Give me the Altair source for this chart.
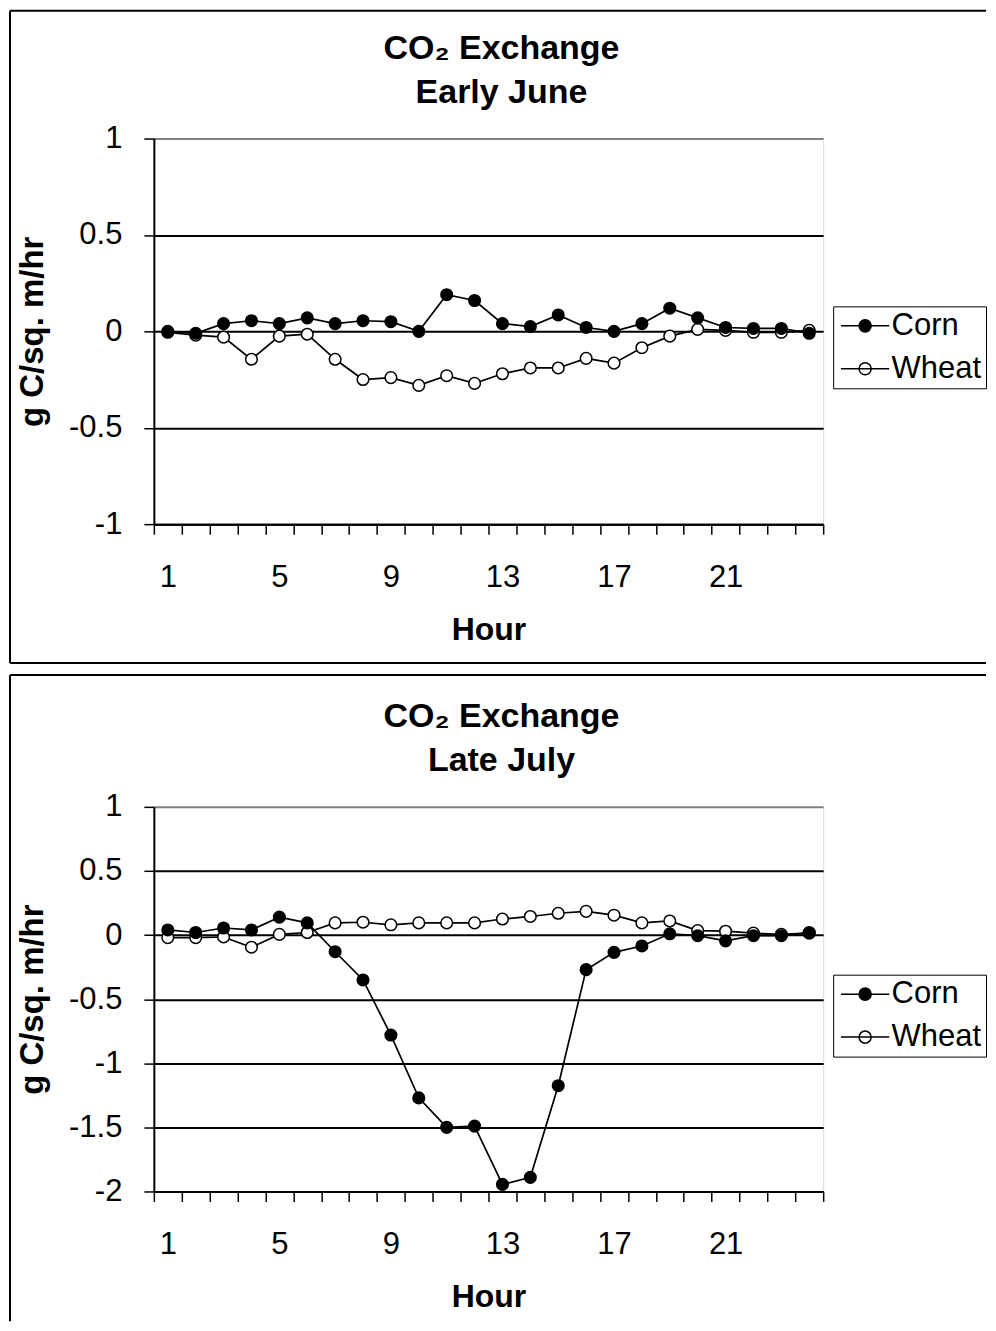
import altair as alt
import pandas as pd

# ---------------- data ----------------
hours = list(range(1, 25))
crops = ["Corn", "Wheat"]

corn_june = [0.0, -0.01, 0.04, 0.055, 0.04, 0.07, 0.04, 0.055, 0.05, 0.0, 0.19, 0.16,
             0.04, 0.025, 0.085, 0.02, 0.0, 0.04, 0.12, 0.07, 0.02, 0.015, 0.015, -0.01]
wheat_june = [-0.005, -0.02, -0.03, -0.145, -0.025, -0.015, -0.145, -0.25, -0.24, -0.28, -0.23, -0.27,
              -0.22, -0.19, -0.19, -0.14, -0.165, -0.085, -0.025, 0.01, 0.005, -0.005, -0.005, 0.005]

corn_july = [0.04, 0.02, 0.055, 0.04, 0.14, 0.095, -0.13, -0.35, -0.78, -1.27, -1.5, -1.49,
             -1.945, -1.89, -1.175, -0.27, -0.135, -0.085, 0.01, -0.005, -0.045, -0.005, -0.005, 0.02]
wheat_july = [-0.02, -0.02, -0.015, -0.095, 0.005, 0.02, 0.095, 0.1, 0.08, 0.095, 0.095, 0.095,
              0.125, 0.145, 0.17, 0.185, 0.155, 0.095, 0.11, 0.035, 0.03, 0.015, 0.005, 0.015]

title_june = ["CO\u2082  Exchange", "Early June"]
title_july = ["CO\u2082  Exchange", "Late July"]
y_domain_june = [-1, 1]
y_domain_july = [-2, 1]
y_ticks_june = [1, 0.5, 0, -0.5, -1]
y_ticks_july = [1, 0.5, 0, -0.5, -1, -1.5, -2]
x_label_hours = [1, 5, 9, 13, 17, 21]
x_title = "Hour"
y_title = "g C/sq. m/hr"

FONT = "Liberation Sans"
W = 670
one = pd.DataFrame({"k": [0]})

x_tick_values = [h - 0.5 for h in hours] + [hours[-1] + 0.5]
label_list = ",".join(str(h - 0.5) for h in x_label_hours)
x_label_expr = f"indexof([{label_list}], datum.value) >= 0 ? '' + (datum.value + 0.5) : ''"

LEGEND_SYMBOL = "M-2.2,0L2.2,0M-0.55,0A0.55,0.55,0,1,1,0.55,0A0.55,0.55,0,1,1,-0.55,0Z"


def panel(corn, wheat, titles, ydom, yticks, H, box_top, box_bottom, left_bottom):
    df = pd.DataFrame({
        "hour": hours + hours,
        "crop": ["Wheat"] * len(hours) + ["Corn"] * len(hours),
        "value": wheat + corn,
    })
    xenc = alt.X(
        "hour:Q",
        scale=alt.Scale(domain=[hours[0] - 0.5, hours[-1] + 0.5], nice=False, zero=False),
        axis=alt.Axis(
            values=x_tick_values, labelExpr=x_label_expr, labelOffset=14,
            labelBaseline="alphabetic", labelPadding=52, labelOverlap=False, labelFlush=False,
            labelFont=FONT, labelFontSize=31, labelColor="black",
            domainColor="black", domainWidth=2, tickColor="black", tickWidth=1.5, tickSize=10,
            grid=False, title=x_title, titleFont=FONT, titleFontSize=32, titleFontWeight="bold",
            titleColor="black", titleBaseline="alphabetic", titleY=115,
        ),
    )
    yenc = alt.Y(
        "value:Q",
        scale=alt.Scale(domain=ydom, nice=False, zero=False),
        axis=alt.Axis(
            values=yticks, labelExpr="'' + datum.value", labelPadding=22,
            labelFont=FONT, labelFontSize=31, labelColor="black", labelOverlap=False,
            domainColor="black", domainWidth=2, tickColor="black", tickWidth=1.5, tickSize=10,
            grid=True, gridWidth=2,
            gridColor={"condition": {"test": "datum.value >= 1", "value": "#808080"}, "value": "black"},
            title=y_title, titleFont=FONT, titleFontSize=33, titleFontWeight="bold",
            titleColor="black", titleAngle=270, titleBaseline="alphabetic", titleX=-111,
        ),
    )
    lines = alt.Chart(df).mark_line(color="black", strokeWidth=1.7).encode(
        x=xenc, y=yenc, detail="crop:N", order="hour:Q"
    )
    points = alt.Chart(df).mark_point(
        filled=True, shape="circle", size=135, stroke="black", strokeWidth=1.5, opacity=1
    ).encode(
        x=xenc, y=yenc,
        fill=alt.Fill(
            "crop:N",
            scale=alt.Scale(domain=crops, range=["black", "white"]),
            legend=alt.Legend(
                title=None, orient="none", legendX=680, legendY=168, direction="vertical",
                symbolType=LEGEND_SYMBOL, symbolSize=484, symbolStrokeColor="black",
                symbolStrokeWidth=1.5, symbolOffset=12.5, labelOffset=11,
                labelFont=FONT, labelFontSize=31, labelColor="black",
                strokeColor="black", padding=4, rowPadding=11,
            ),
        ),
    )
    t1 = alt.Chart(one).mark_text(
        font=FONT, fontSize=34, fontWeight="bold", align="center", baseline="alphabetic", color="black"
    ).encode(x=alt.value(348), y=alt.value(-80), text=alt.value(titles[0]))
    t2 = alt.Chart(one).mark_text(
        font=FONT, fontSize=34, fontWeight="bold", align="center", baseline="alphabetic", color="black"
    ).encode(x=alt.value(348), y=alt.value(-36), text=alt.value(titles[1]))

    layers = [lines, points, t1, t2]
    layers.append(alt.Chart(one).mark_rule(color="black", strokeWidth=2).encode(
        x=alt.value(-144), x2=alt.value(833), y=alt.value(box_top)))
    if box_bottom is not None:
        layers.append(alt.Chart(one).mark_rule(color="black", strokeWidth=2).encode(
            x=alt.value(-144), x2=alt.value(833), y=alt.value(box_bottom)))
    layers.append(alt.Chart(one).mark_rule(color="black", strokeWidth=2).encode(
        x=alt.value(-144), y=alt.value(box_top), y2=alt.value(left_bottom)))
    return alt.layer(*layers).properties(width=W, height=H)


top = panel(corn_june, wheat_june, title_june, y_domain_june, y_ticks_june, 386, -128, 525, 525)
bottom = panel(corn_july, wheat_july, title_july, y_domain_july, y_ticks_july, 385, -132, None, 515)

chart = alt.vconcat(top, bottom, spacing=283, bounds="flush").resolve_scale(
    x="independent", y="independent", fill="independent"
).resolve_legend(fill="independent").properties(
    padding=0, background="white"
).configure_view(
    stroke="#808080", strokeWidth=2
).configure_legend(
    strokeWidth=2
).configure(font=FONT)

chart.save("out.html", embed_options={"renderer": "svg", "actions": False})
